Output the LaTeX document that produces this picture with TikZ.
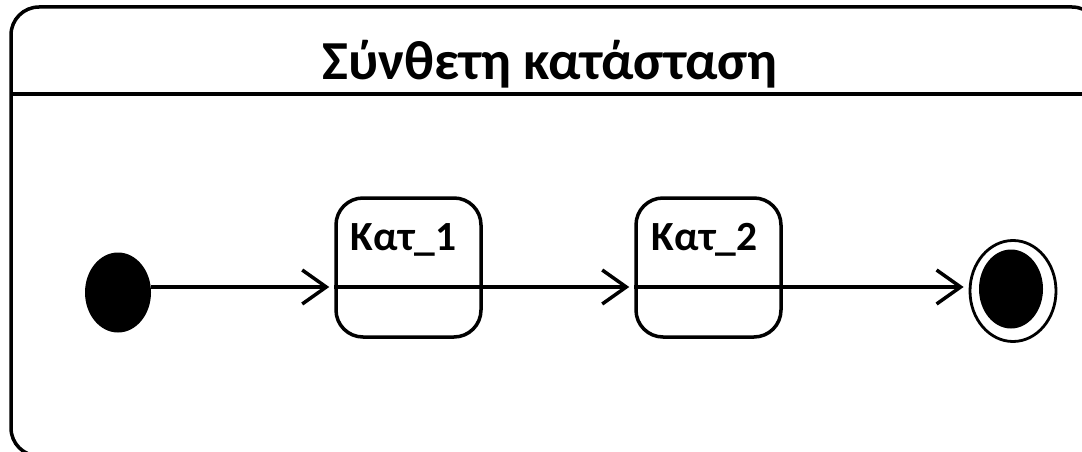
\documentclass[tikz,border=0pt]{standalone}
\usepackage{fontspec}
\setmainfont{Carlito}
\usetikzlibrary{shapes.geometric,arrows.meta}
\begin{document}
\begin{tikzpicture}[x=1pt,y=-1pt,
  thick line/.style={line width=3.5pt},
  arr/.style={line width=3.5pt, -{Straight Barb[length=24pt,width=34pt,line width=3.5pt]}, shorten >=5pt},
  statebox/.style={draw, line width=3.5pt, rounded corners=27pt, minimum width=145pt, minimum height=139pt, inner sep=0pt},
  lbl/.style={anchor=base, font=\bfseries\fontsize{41.5}{44}\selectfont, inner sep=0pt},
  solid dot/.style={ellipse, fill=black, inner sep=0pt}
]
\useasboundingbox (0,0) rectangle (1082,452);
\clip (0,0) rectangle (1082,452);
% outer composite state
\draw[thick line, rounded corners=28pt] (11,7) rectangle (1100,456);
\draw[line width=4pt] (11,94) -- (1100,94);
\node[anchor=base, font=\bfseries\fontsize{55}{58}\selectfont, inner sep=0pt] (title) at (550,80) {Σύνθετη κατάσταση};
% initial state
\node[solid dot, minimum width=66pt, minimum height=80pt] (init) at (118,292.5) {};
% states
\node[statebox] (s1) at (408.5,267.5) {};
\draw[thick line] (s1.west |- 0,287) -- (s1.east |- 0,287);
\node[lbl] (l1) at (403.5,250) {Κατ\_1};
\node[statebox] (s2) at (708.5,267.5) {};
\draw[thick line] (s2.west |- 0,287) -- (s2.east |- 0,287);
\node[lbl] (l2) at (704.5,250) {Κατ\_2};
% final state
\node[ellipse, draw, line width=2.8pt, minimum width=86pt, minimum height=101pt, inner sep=0pt] (fin) at (1013,291) {};
\node[solid dot, minimum width=64pt, minimum height=79pt] (finin) at (1011,289) {};
% transitions
\draw[arr] (init.east |- 0,287) -- (s1.west |- 0,287);
\draw[arr] (s1.east |- 0,287) -- (s2.west |- 0,287);
\draw[arr] (s2.east |- 0,287) -- (fin.west |- 0,287);
\end{tikzpicture}
\end{document}
